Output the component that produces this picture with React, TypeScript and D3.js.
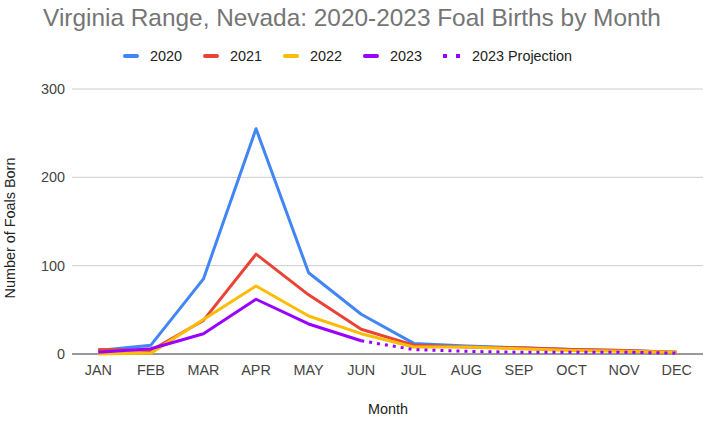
import { useMemo } from 'react'
import * as d3 from 'd3'

const W = 718
const H = 422

const months = ['JAN', 'FEB', 'MAR', 'APR', 'MAY', 'JUN', 'JUL', 'AUG', 'SEP', 'OCT', 'NOV', 'DEC']
const yTicks = [0, 100, 200, 300]

const foals2020 = [4, 10, 85, 255, 92, 45, 12, 9, 7, 5, 4, 2]
const foals2021 = [5, 4, 38, 113, 67, 28, 10, 8, 7, 5, 4, 2]
const foals2022 = [0, 1, 39, 77, 43, 23, 8, 8, 6, 4, 3, 2]
const foals2023: (number | null)[] = [2, 6, 23, 62, 34, 15, null, null, null, null, null, null]
const projection2023: (number | null)[] = [null, null, null, null, null, 15, 5, 3, 2, 2, 2, 1]

const seriesNames = ['2020', '2021', '2022', '2023', '2023 Projection']
const seriesColors = ['#4285f4', '#ea4335', '#fbbc04', '#9900ff', '#9900ff']

const FONT = 'Arial, "Liberation Sans", sans-serif'
const FS = 14.4

export default function App() {
  const margin = { left: 72, right: 15, top: 89, bottom: 68 }

  const x = useMemo(
    () => d3.scaleBand<string>().domain(months).range([margin.left, W - margin.right]),
    []
  )
  const y = useMemo(
    () => d3.scaleLinear().domain([0, 300]).range([H - margin.bottom, margin.top]),
    []
  )

  const cx = (m: string) => (x(m) ?? 0) + x.bandwidth() / 2

  const line = d3
    .line<number | null>()
    .defined((d) => d != null)
    .x((_, i) => cx(months[i]))
    .y((d) => y(d as number))

  const all = [foals2020, foals2021, foals2022, foals2023, projection2023]

  // legend swatch left edges
  const legendX = [124, 204, 284, 364, 443]

  return (
    <svg width={W} height={H} style={{ display: 'block', position: 'absolute', left: 0, top: 0, background: '#fff' }}>
      <text x={352} y={26} textAnchor="middle"
        style={{ fontFamily: FONT, fontSize: 24.4, fill: '#757575' }}>
        Virginia Range, Nevada: 2020-2023 Foal Births by Month
      </text>

      {/* Legend */}
      {seriesNames.map((name, i) => {
        const lx = legendX[i]
        const ly = 56
        return (
          <g key={name}>
            {i < 4 ? (
              <line x1={lx + 1} x2={lx + 13} y1={ly} y2={ly}
                stroke={seriesColors[i]} strokeWidth={4} strokeLinecap="round" />
            ) : (
              <line x1={lx} x2={lx + 18} y1={ly} y2={ly}
                stroke={seriesColors[i]} strokeWidth={4} strokeDasharray="4 9" />
            )}
            <text x={lx + (i < 4 ? 26 : 29)} y={ly} dominantBaseline="central"
              style={{ fontFamily: FONT, fontSize: FS, fill: '#222' }}>
              {name}
            </text>
          </g>
        )
      })}

      {/* Grid */}
      {yTicks.map((t) => (
        <g key={t}>
          <line x1={margin.left} x2={W - margin.right} y1={y(t)} y2={y(t)}
            stroke={t === 0 ? '#333' : '#ccc'} strokeWidth={1} />
          <text x={65} y={y(t)} textAnchor="end" dominantBaseline="central"
            style={{ fontFamily: FONT, fontSize: FS, fill: '#444' }}>
            {t}
          </text>
        </g>
      ))}

      {/* X labels */}
      {months.map((m) => (
        <text key={m} x={cx(m)} y={370} textAnchor="middle" dominantBaseline="central"
          style={{ fontFamily: FONT, fontSize: FS, fill: '#444' }}>
          {m}
        </text>
      ))}

      {/* Lines */}
      {all.map((s, i) => (
        <path key={i} d={line(s) ?? ''} fill="none" stroke={seriesColors[i]}
          strokeWidth={3} strokeLinejoin="round"
          strokeDasharray={i === 4 ? '3 5' : undefined} />
      ))}

      {/* Axis titles */}
      <text x={388} y={409} textAnchor="middle" dominantBaseline="central"
        style={{ fontFamily: FONT, fontSize: FS, fill: '#222' }}>
        Month
      </text>
      <text transform="translate(10,228) rotate(-90)" textAnchor="middle"
        dominantBaseline="central"
        style={{ fontFamily: FONT, fontSize: FS, fill: '#222' }}>
        Number of Foals Born
      </text>
    </svg>
  )
}
